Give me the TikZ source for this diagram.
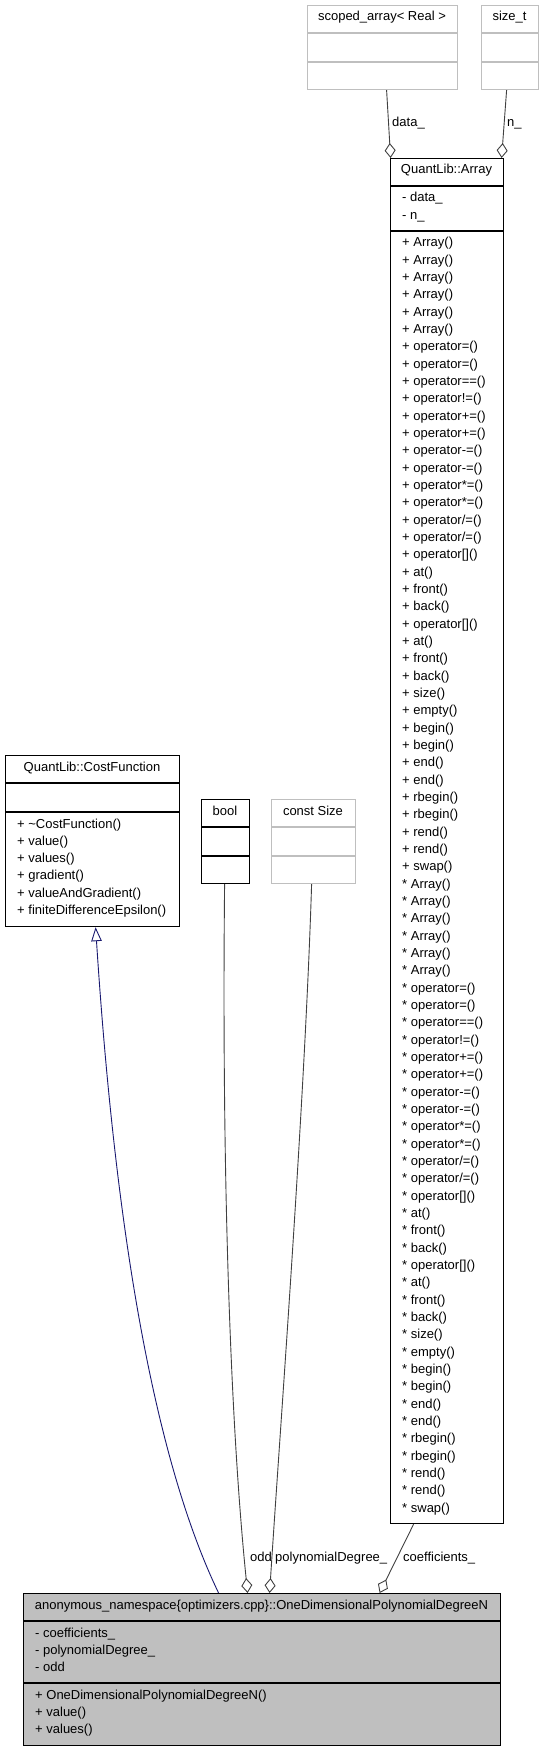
\documentclass[tikz,border=0pt]{standalone}
\usepackage{fontspec}
\setmainfont{Liberation Sans}
\usetikzlibrary{arrows.meta}
\definecolor{edgegray}{HTML}{404040}
\definecolor{boxgray}{HTML}{BFBFBF}
\definecolor{inhblue}{HTML}{191970}
\newcommand\fsz{\fontsize{13}{15}\selectfont}
\tikzset{
  cls/.style={draw=black, line width=1.2pt, rectangle, inner sep=0, anchor=north west},
  extcls/.style={draw=boxgray, line width=1.2pt, rectangle, inner sep=0, anchor=north west},
  clsline/.style={draw=black, line width=1.2pt},
  extline/.style={draw=boxgray, line width=1.2pt},
  row/.style={anchor=base west, inner sep=0, font=\fsz},
  hdr/.style={anchor=base, inner sep=0, font=\fsz},
  elbl/.style={anchor=base west, inner sep=0, font=\fsz},
  agg/.style={draw=edgegray, line width=0.9pt, {Diamond[open,length=15pt,width=11pt]}-},
  inh/.style={draw=inhblue, line width=0.9pt, -{Triangle[open,length=14pt,width=10.5pt]}},
}
\begin{document}
\begin{tikzpicture}[x=1pt,y=-1pt]
\useasboundingbox (0,0) rectangle (543,1752);

% scoped_array< Real >
\node[extcls, minimum width=150pt, minimum height=84pt] (sa) at (307,5) {};
\node[hdr] (sat) at (382,21) {scoped\_array< Real >};
\draw[extline] (307,33) -- (457,33) (307,62) -- (457,62);

% size_t
\node[extcls, minimum width=57pt, minimum height=84pt] (st) at (481,5) {};
\node[hdr] (stt) at (509.5,21) {size\_t};
\draw[extline] (481,33) -- (538,33) (481,62) -- (538,62);

% QuantLib::Array
\node[cls, minimum width=113pt, minimum height=1365pt] (arr) at (390,158) {};
\node[hdr] (arrt) at (446.5,174) {QuantLib::Array};
\draw[clsline] (390,186) -- (503,186) (390,231) -- (503,231);
\node[row] (arra1) at (402,202) {- data\_};
\node[row] (arra2) at (402,219.33) {- n\_};
\def\arrlist{{Array()},{Array()},{Array()},{Array()},{Array()},{Array()},{operator=()},{operator=()},{operator==()},{operator!=()},{operator+=()},{operator+=()},{operator-=()},{operator-=()},{operator*=()},{operator*=()},{operator/=()},{operator/=()},{operator[]()},{at()},{front()},{back()},{operator[]()},{at()},{front()},{back()},{size()},{empty()},{begin()},{begin()},{end()},{end()},{rbegin()},{rbegin()},{rend()},{rend()},{swap()}}
\foreach \m [count=\i from 0] in \arrlist {
  \node[row] (ap\i) at (402,{247+\i*17.33}) {+ \m};
  \node[row] (as\i) at (402,{247+(\i+37)*17.33}) {* \m};
}

% QuantLib::CostFunction
\node[cls, minimum width=174pt, minimum height=171pt] (cf) at (5,755) {};
\node[hdr] (cft) at (92,771) {QuantLib::CostFunction};
\draw[clsline] (5,783) -- (179,783) (5,812) -- (179,812);
\foreach \m [count=\i from 0] in {\textasciitilde CostFunction(),value(),values(),gradient(),valueAndGradient(),finiteDifferenceEpsilon()} {
  \node[row] (cfm\i) at (17,{828+\i*17.33}) {+ \m};
}

% bool
\node[cls, minimum width=48pt, minimum height=84pt] (bool) at (201,799) {};
\node[hdr] (boolt) at (225,815) {bool};
\draw[clsline] (201,827) -- (249,827) (201,856) -- (249,856);

% const Size
\node[extcls, minimum width=84pt, minimum height=84pt] (cs) at (271,799) {};
\node[hdr] (cst) at (313,815) {const Size};
\draw[extline] (271,827) -- (355,827) (271,856) -- (355,856);

% OneDimensionalPolynomialDegreeN
\node[cls, fill=boxgray, minimum width=477pt, minimum height=152pt] (bot) at (23,1593) {};
\node[hdr] (bott) at (261.5,1609) {anonymous\_namespace\{optimizers.cpp\}::OneDimensionalPolynomialDegreeN};
\draw[clsline] (23,1621) -- (500,1621) (23,1683) -- (500,1683);
\node[row] (bota1) at (35,1637) {- coefficients\_};
\node[row] (bota2) at (35,1654.33) {- polynomialDegree\_};
\node[row] (bota3) at (35,1671.67) {- odd};
\node[row] (botm1) at (35,1699) {+ OneDimensionalPolynomialDegreeN()};
\node[row] (botm2) at (35,1716.33) {+ value()};
\node[row] (botm3) at (35,1733.67) {+ values()};

% connectors
\draw[inh] ([xshift=-43.5pt]bot.north) .. controls (145,1440) and (112,1180) .. ([xshift=3pt]cf.south);
\draw[agg] ([xshift=-14.5pt]bot.north) .. controls (228,1400) and (222,1130) .. ([xshift=-1pt]bool.south);
\draw[agg] ([xshift=7.5pt]bot.north) .. controls (280,1430) and (305,1100) .. ([xshift=-2pt]cs.south);
\draw[agg] ([xshift=117.5pt]bot.north) -- ([xshift=-33.5pt]arr.south);
\draw[agg] ([xshift=-56.5pt]arr.north) -- ([xshift=4pt]sa.south);
\draw[agg] ([xshift=54.5pt]arr.north) -- ([xshift=-3.5pt]st.south);

% connector labels
\node[elbl] (lodd) at (250,1561) {odd};
\node[elbl] (lpd) at (275,1561) {polynomialDegree\_};
\node[elbl] (lcoef) at (403,1561) {coefficients\_};
\node[elbl] (ldata) at (392,127) {data\_};
\node[elbl] (ln) at (507,127) {n\_};
\end{tikzpicture}
\end{document}
